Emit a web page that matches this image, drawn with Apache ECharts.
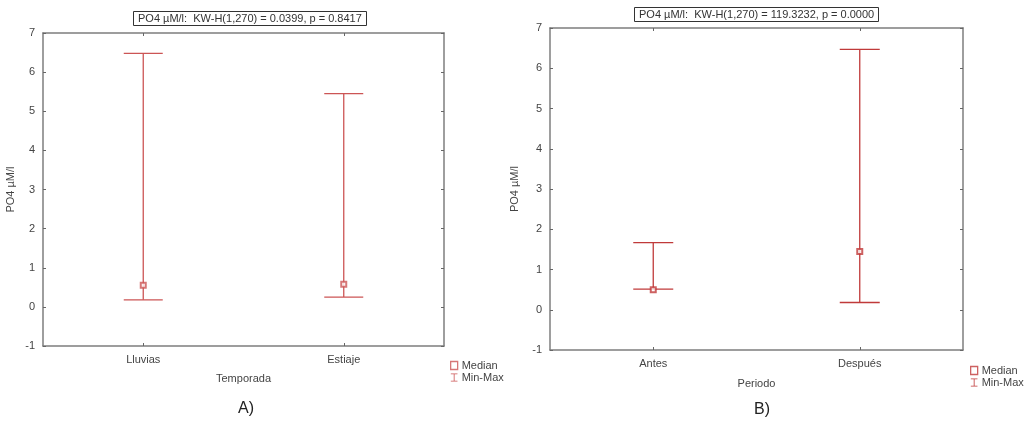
<!DOCTYPE html>
<html>
<head>
<meta charset="utf-8">
<script src="https://cdn.jsdelivr.net/npm/echarts@6/dist/echarts.min.js"></script>
<style>html,body{margin:0;padding:0;background:#fff;}#c{width:1024px;height:424px;}</style>
</head>
<body>
<div id="c"></div>
<script>
// ---- data ----
const catsA = ['Lluvias', 'Estiaje'];
const minA = [0.18, 0.25];
const maxA = [6.48, 5.45];
const medA = [0.55, 0.58];

const catsB = ['Antes', 'Después'];
const minB = [0.51, 0.18];
const maxB = [1.67, 6.47];
const medB = [0.50, 1.45];

const yTicks = [-1, 0, 1, 2, 3, 4, 5, 6, 7];

const titleA = 'PO4 µM/l:  KW-H(1,270) = 0.0399, p = 0.8417';
const titleB = 'PO4 µM/l:  KW-H(1,270) = 119.3232, p = 0.0000';

// ---- chart ----
const chart = echarts.init(document.getElementById('c'), null, {renderer: 'canvas'});
const FONT = 'Liberation Sans, Arial, sans-serif';
const frame = '#7e7e7e';
const textC = '#444';
const colA = '#cc5555';
const colB = '#c03a3a';

function errItem(capHalf, color) {
  return function (params, api) {
    const x = api.value(0);
    const lo = api.coord([x, api.value(1)]);
    const hi = api.coord([x, api.value(2)]);
    const st = {stroke: color, lineWidth: 1.3};
    return {
      type: 'group',
      children: [
        {type: 'line', shape: {x1: lo[0], y1: lo[1], x2: hi[0], y2: hi[1]}, style: st},
        {type: 'line', shape: {x1: lo[0] - capHalf, y1: lo[1], x2: lo[0] + capHalf, y2: lo[1]}, style: st},
        {type: 'line', shape: {x1: hi[0] - capHalf, y1: hi[1], x2: hi[0] + capHalf, y2: hi[1]}, style: st}
      ]
    };
  };
}

function yAxes(gi, nameGap) {
  const base = {
    type: 'value', gridIndex: gi, min: yTicks[0], max: yTicks[yTicks.length - 1], interval: 1,
    splitLine: {show: false},
    axisLine: {show: true, onZero: false, lineStyle: {color: frame, width: 1.5}},
    axisTick: {show: true, inside: true, length: 3, lineStyle: {color: '#666'}}
  };
  return [
    Object.assign({}, base, {
      position: 'left', name: 'PO4 µM/l', nameLocation: 'middle', nameRotate: 90, nameGap: nameGap,
      nameTextStyle: {color: textC, fontSize: 11, fontFamily: FONT},
      axisLabel: {color: textC, fontSize: 11, fontFamily: FONT, margin: 8}
    }),
    Object.assign({}, base, {position: 'right', axisLabel: {show: false}})
  ];
}

function xAxes(gi, cats, name, nameGap) {
  const base = {
    type: 'category', gridIndex: gi, data: cats, boundaryGap: true,
    axisLine: {show: true, onZero: false, lineStyle: {color: frame, width: 1.5}},
    axisTick: {show: true, inside: true, length: 3, alignWithLabel: true, lineStyle: {color: '#666'}},
    splitLine: {show: false}
  };
  return [
    Object.assign({}, base, {
      position: 'bottom', name: name, nameLocation: 'middle', nameGap: nameGap,
      nameTextStyle: {color: textC, fontSize: 11, fontFamily: FONT},
      axisLabel: {color: textC, fontSize: 11, fontFamily: FONT, margin: 8}
    }),
    Object.assign({}, base, {position: 'top', axisLabel: {show: false}})
  ];
}

const ibeam = 'path://M0,0H10V1.2H5.6V10.8H10V12H0V10.8H4.4V1.2H0Z';

const ya = yAxes(0, 27), yb = yAxes(1, 30);
const xa = xAxes(0, catsA, 'Temporada', 27), xb = xAxes(1, catsB, 'Periodo', 28);

chart.setOption({
  animation: false,
  backgroundColor: '#fff',
  title: [
    {text: titleA, left: 133, top: 11, padding: [2, 5, 2, 5], borderColor: '#333', borderWidth: 1,
      textStyle: {fontSize: 11, fontWeight: 'normal', color: '#333', fontFamily: FONT}},
    {text: titleB, left: 634, top: 7, padding: [2, 5, 2, 5], borderColor: '#333', borderWidth: 1,
      textStyle: {fontSize: 11, fontWeight: 'normal', color: '#333', fontFamily: FONT}}
  ],
  grid: [
    {left: 43, top: 33, width: 401, height: 313, show: false},
    {left: 550, top: 28, width: 413, height: 322, show: false}
  ],
  xAxis: [xa[0], xa[1], xb[0], xb[1]],
  yAxis: [ya[0], ya[1], yb[0], yb[1]],
  legend: [
    {orient: 'vertical', left: 445, top: 355, itemWidth: 7, itemHeight: 8, itemGap: 1,
      textStyle: {color: textC, fontSize: 11, fontFamily: FONT, padding: [0, 0, 0, -1]},
      data: [{name: 'Median', icon: 'rect', itemStyle: {color: '#fff', borderColor: colA, borderWidth: 1.3}},
             {name: 'Min-Max', icon: ibeam, itemStyle: {color: colA, borderWidth: 0}}]},
    {orient: 'vertical', left: 965, top: 360, itemWidth: 7, itemHeight: 8, itemGap: 1,
      textStyle: {color: textC, fontSize: 11, fontFamily: FONT, padding: [0, 0, 0, -1]},
      data: [{name: 'Median', icon: 'rect', itemStyle: {color: '#fff', borderColor: colB, borderWidth: 1.3}},
             {name: 'Min-Max', icon: ibeam, itemStyle: {color: colB, borderWidth: 0}}]}
  ],
  graphic: [
    {type: 'text', left: 238, top: 401, style: {text: 'A)', fontSize: 16, fill: '#222', fontFamily: FONT}},
    {type: 'text', left: 754, top: 402, style: {text: 'B)', fontSize: 16, fill: '#222', fontFamily: FONT}}
  ],
  series: [
    {name: 'Min-Max', type: 'custom', xAxisIndex: 0, yAxisIndex: 0, renderItem: errItem(19.5, colA),
      itemStyle: {color: colA}, data: catsA.map((c, i) => [i, minA[i], maxA[i]]), z: 2},
    {name: 'Median', type: 'scatter', xAxisIndex: 0, yAxisIndex: 0, symbol: 'emptyRect', symbolSize: 5,
      itemStyle: {color: colA, borderColor: colA, borderWidth: 1.3}, data: catsA.map((c, i) => [i, medA[i]]), z: 3},
    {name: 'Min-Max', type: 'custom', xAxisIndex: 2, yAxisIndex: 2, renderItem: errItem(20, colB),
      itemStyle: {color: colB}, data: catsB.map((c, i) => [i, minB[i], maxB[i]]), z: 2},
    {name: 'Median', type: 'scatter', xAxisIndex: 2, yAxisIndex: 2, symbol: 'emptyRect', symbolSize: 5,
      itemStyle: {color: colB, borderColor: colB, borderWidth: 1.3}, data: catsB.map((c, i) => [i, medB[i]]), z: 3}
  ]
});
</script>
</body>
</html>
